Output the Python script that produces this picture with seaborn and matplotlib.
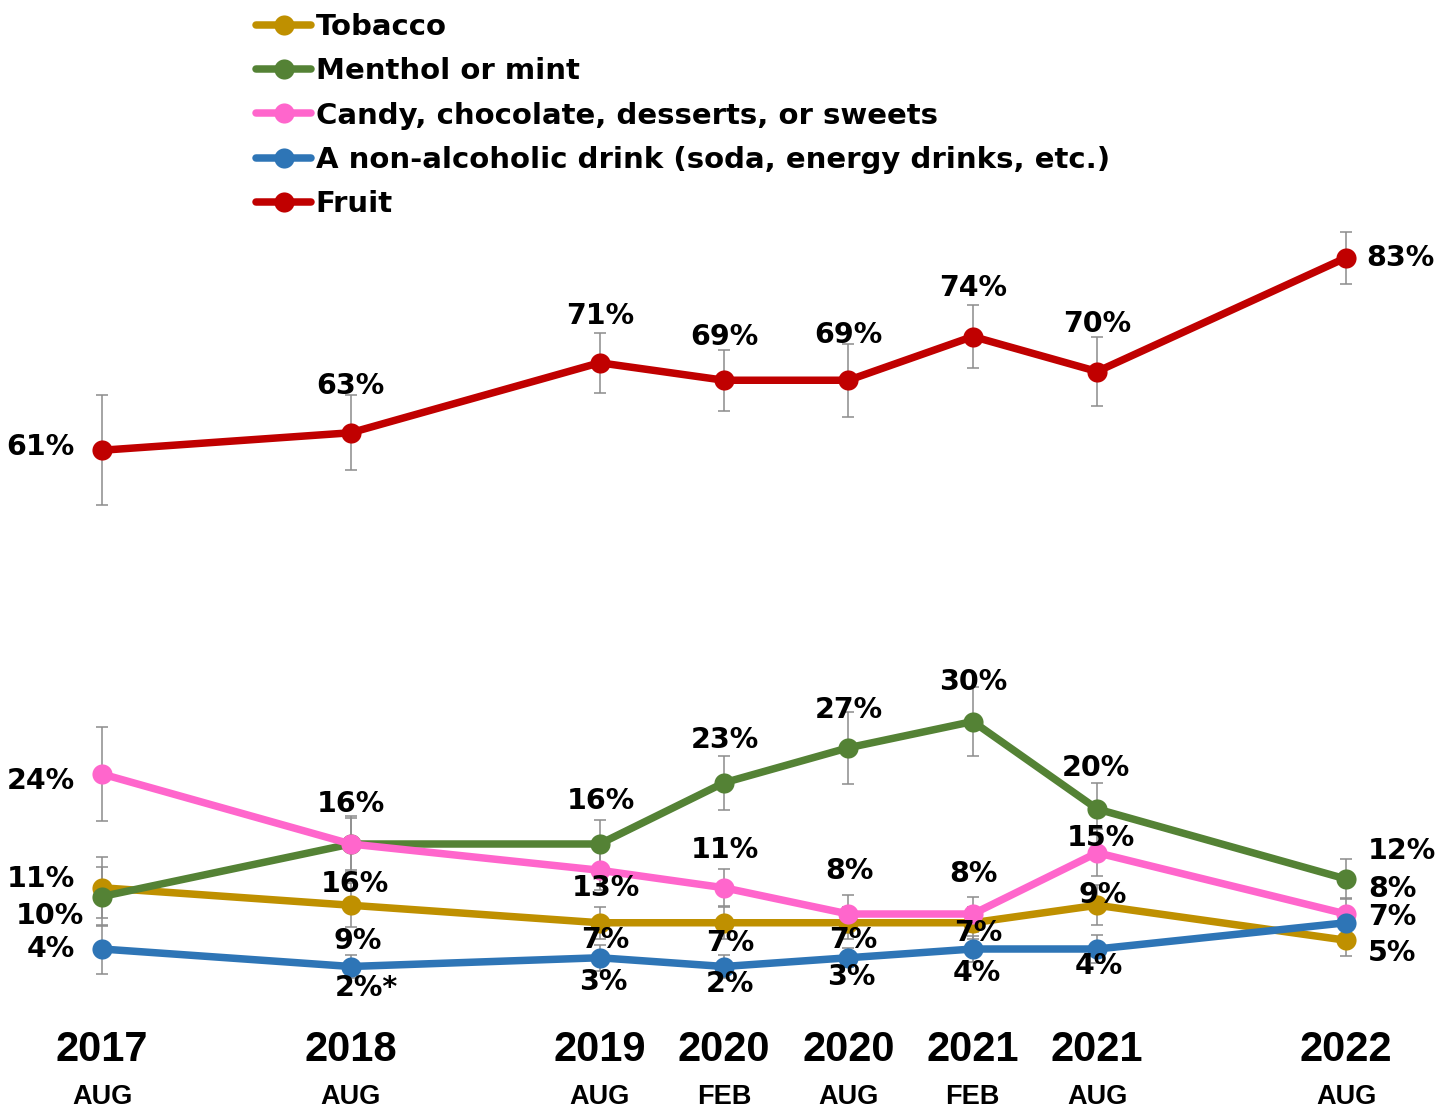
import matplotlib
matplotlib.use("Agg")
import matplotlib.pyplot as plt
import pandas as pd
import seaborn as sns

# survey waves (months since Aug 2017, so spacing follows time)
months = [0, 12, 24, 30, 36, 42, 48, 60]
wave_years = ["2017", "2018", "2019", "2020", "2020", "2021", "2021", "2022"]
wave_months = ["AUG", "AUG", "AUG", "FEB", "AUG", "FEB", "AUG", "AUG"]

flavors = ["Tobacco", "Menthol or mint", "Candy, chocolate, desserts, or sweets",
           "A non-alcoholic drink (soda, energy drinks, etc.)", "Fruit"]
colors = ["#BF9000", "#548235", "#FF66CC", "#2E75B6", "#C00000"]

tobacco = [11, 9, 7, 7, 7, 7, 9, 5]
menthol = [10, 16, 16, 23, 27, 30, 20, 12]
candy = [24, 16, 13, 11, 8, 8, 15, 8]
drink = [4, 2, 3, 2, 3, 4, 4, 7]
fruit = [61, 63, 71, 69, 69, 74, 70, 83]

# half width of the confidence interval whiskers
tobacco_ci = [3.5, 2.5, 1.8, 1.8, 1.8, 1.8, 2.3, 1.8]
menthol_ci = [3.4, 3.2, 2.7, 3.1, 4.1, 3.9, 3.0, 2.3]
candy_ci = [5.4, 3.0, 2.3, 2.1, 2.2, 2.0, 2.7, 1.8]
drink_ci = [2.8, 1.3, 1.5, 1.3, 1.1, 1.5, 1.6, 1.5]
fruit_ci = [6.3, 4.3, 3.4, 3.5, 4.2, 3.6, 3.9, 3.0]

# footnote marks on the value labels
drink_marks = ["", "*", "", "", "", "", "", ""]

# label offsets from each point, in pixels (dx, dy up)
tobacco_off = [(-27, 12), (7, -33), (6, -14), (6, -17), (5, -14), (5, -7), (5, 13), (22, -10)]
menthol_off = [(-18, -17), (0, 43), (1, 46), (1, 46), (0, 41), (0, 42), (-1, 44), (22, 31)]
candy_off = [(-27, -4), (4, -37), (6, -15), (1, 41), (1, 46), (1, 43), (4, 18), (22, 28)]
drink_off = [(-27, 3), (16, -18), (4, -21), (6, -15), (3, -16), (4, -21), (2, -14), (22, 9)]
fruit_off = [(-27, 6), (0, 50), (1, 50), (0, 46), (0, 48), (0, 51), (0, 50), (20, 3)]

values = [tobacco, menthol, candy, drink, fruit]
cis = [tobacco_ci, menthol_ci, candy_ci, drink_ci, fruit_ci]
offsets = [tobacco_off, menthol_off, candy_off, drink_off, fruit_off]
marks = [[""] * 8, [""] * 8, [""] * 8, drink_marks, [""] * 8]

df = pd.DataFrame(
    [(m, f, v) for f, vals in zip(flavors, values) for m, v in zip(months, vals)],
    columns=["month", "flavor", "pct"],
)

sns.set_style("white")
plt.rcParams["font.family"] = ["DejaVu Sans"]
plt.rcParams["text.color"] = "black"

W, H = 1447, 1108
fig = plt.figure(figsize=(W / 100, H / 100), dpi=100)
ax = fig.add_axes([0, 0, 1, 1])

sns.lineplot(data=df, x="month", y="pct", hue="flavor", hue_order=flavors,
             palette=colors, marker="o", markersize=14.5, markeredgewidth=0,
             linewidth=5.4, errorbar=None, legend=False, ax=ax, zorder=2)
handles = ax.get_lines()[:5]

for vals, ci in zip(values, cis):
    ax.errorbar(months, vals, yerr=ci, fmt="none", ecolor="#8c8c8c",
                elinewidth=1.1, capsize=4.3, capthick=1.1, zorder=1)

# map data to the reference pixel grid
px_per_month = (1346 - 102) / 60
px_per_pct = 8.75
ax.set_xlim(-102 / px_per_month, (W - 102) / px_per_month)
ax.set_ylim(-(H - 984) / px_per_pct, 984 / px_per_pct)
ax.axis("off")

label_font = dict(fontsize=20.5, fontweight="bold", color="black")
for vals, offs, mk in zip(values, offsets, marks):
    for i, (m, v) in enumerate(zip(months, vals)):
        ha = "right" if i == 0 else ("left" if i == len(months) - 1 else "center")
        ax.annotate(f"{v}%{mk[i]}", (m, v), xytext=offs[i], textcoords="offset pixels",
                    ha=ha, va="center_baseline", zorder=5, **label_font)

xt = ax.get_xaxis_transform()
for m, yr, mo in zip(months, wave_years, wave_months):
    ax.text(m, 1 - 1050 / H, yr, transform=xt, ha="center", va="center",
            fontsize=30, fontweight="bold", family="Liberation Sans", color="black")
    ax.text(m, 1 - 1097 / H, mo, transform=xt, ha="center", va="center",
            fontsize=19.5, fontweight="bold", family="Liberation Sans", color="black")

leg = ax.legend(handles, flavors, loc="upper left", bbox_to_anchor=(256 / W, 1 - 13 / H),
                bbox_transform=fig.transFigure, frameon=False, borderpad=0,
                borderaxespad=0, handlelength=1.9, handletextpad=0.15,
                labelspacing=0.56, prop=dict(size=21, weight="bold"))
for t in leg.get_texts():
    t.set_color("black")

fig.savefig("out.png", dpi=100)
